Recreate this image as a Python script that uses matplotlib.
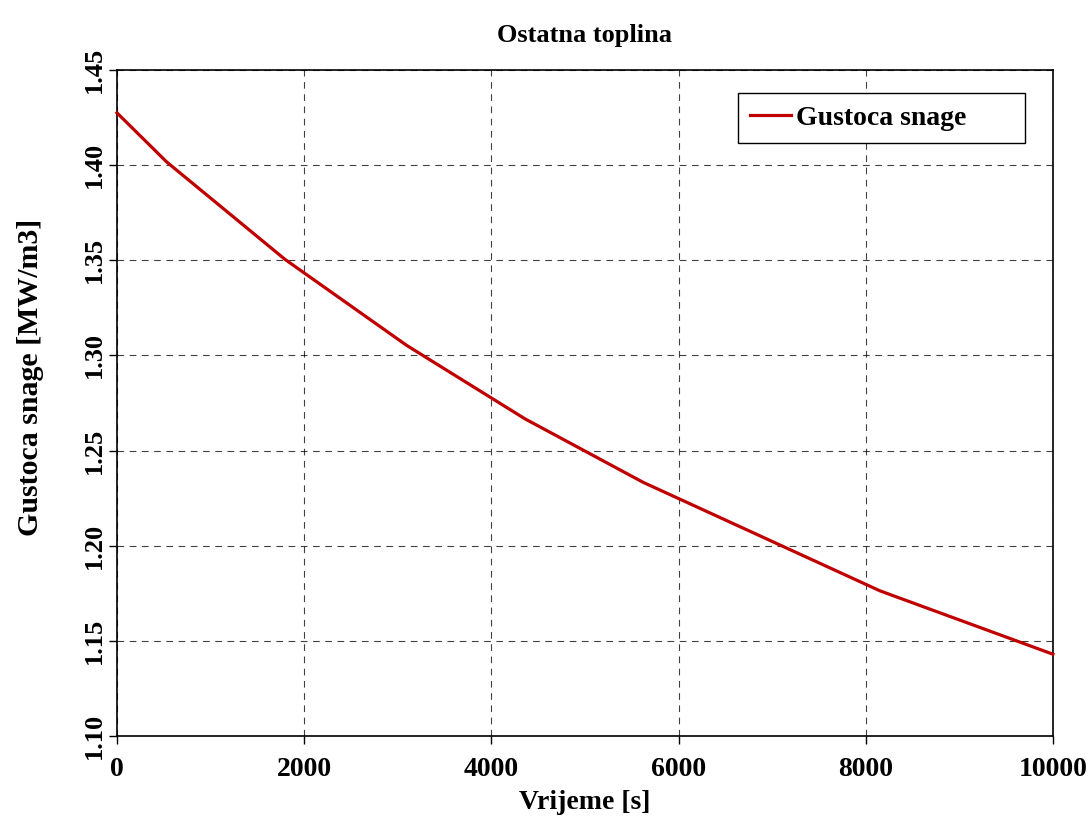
import matplotlib
matplotlib.use("Agg")
import matplotlib.pyplot as plt

plt.rcParams['font.family'] = ['Liberation Serif', 'DejaVu Serif']
plt.rcParams['font.weight'] = 'bold'

time_s = [0, 531, 1795, 3095, 4359, 5623, 8152, 10000]
power_density = [1.4275, 1.4017, 1.3505, 1.3053, 1.2667, 1.2333, 1.1763, 1.1430]

x_ticks = [0, 2000, 4000, 6000, 8000, 10000]
y_ticks = [1.10, 1.15, 1.20, 1.25, 1.30, 1.35, 1.40, 1.45]

fig = plt.figure(figsize=(10.89, 8.19), dpi=100)
ax = fig.add_axes([0.1074, 0.1013, 0.8595, 0.8132])

ax.plot(time_s, power_density, color="#C00000", linewidth=2.3, label="Gustoca snage",
        solid_joinstyle="round", clip_on=False, zorder=3)

ax.set_xlim(0, 10000)
ax.set_ylim(1.10, 1.45)
ax.set_xticks(x_ticks)
ax.set_yticks(y_ticks)
ax.set_xticklabels([str(t) for t in x_ticks], fontsize=20, fontweight='bold')
ax.set_yticklabels(["%.2f" % v for v in y_ticks], fontsize=19, fontweight='bold',
                   rotation=90, va='center')

ax.tick_params(direction='out', length=6, width=1, color='black')
ax.tick_params(axis='x', pad=9)
ax.tick_params(axis='y', pad=2)
ax.grid(True, color='black', linestyle=(0, (6, 5)), linewidth=0.8, alpha=0.75)

for s in ax.spines.values():
    s.set_linewidth(1.2)
    s.set_color('black')

ax.set_title("Ostatna toplina", fontsize=19, fontweight='bold', pad=20)
ax.set_xlabel("Vrijeme [s]", fontsize=20, fontweight='bold', labelpad=6)
ax.set_ylabel("Gustoca snage [MW/m3]", fontsize=21.5, fontweight='bold')
ax.yaxis.set_label_coords(-0.078, 0.539)

leg = ax.legend(loc='upper left', mode='expand',
                bbox_to_anchor=(0.6635, 0.8889, 0.3066, 0.0766), fontsize=20,
                frameon=True, fancybox=False, handlelength=1.45, handletextpad=0.2,
                borderpad=0.45, borderaxespad=0)
leg.get_frame().set_edgecolor('black')
leg.get_frame().set_linewidth(1.0)
leg.get_frame().set_alpha(1)

fig.savefig("out.png", dpi=100)
